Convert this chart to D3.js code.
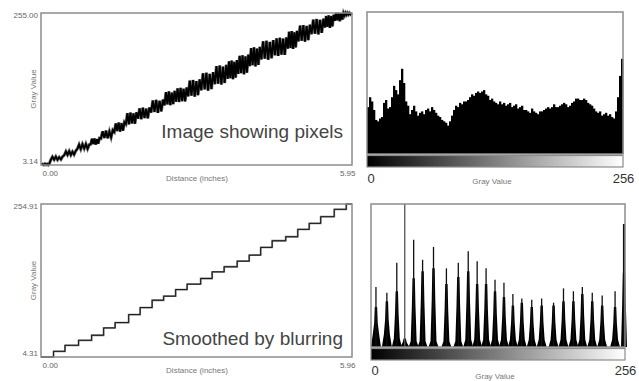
<!DOCTYPE html>
<html>
<head>
<meta charset="utf-8">
<script src="https://cdn.jsdelivr.net/npm/d3@7"></script>
<style>
    body { margin: 0; background: #fff; }
    svg { display: block; font-family: "Liberation Sans", Arial, sans-serif; }
</style>
</head>
<body>
<script>
// ---- data ----

// top left: raw profile, step edges (inches) and noisy samples inside each step
var rawEdges = [0, 0.17, 0.43, 0.68, 0.94, 1.13, 1.39, 1.61, 1.84, 2.09, 2.35, 2.57, 2.80, 3.05, 3.31, 3.56, 3.76, 3.98, 4.20, 4.46, 4.71, 4.91, 5.16, 5.42, 5.61, 5.80, 5.95];
var rawSamples = [
    [3.14, 4.5, 3.3, 5, 3.5, 4.8, 3.2, 5.2],
    [11.5, 16.5, 12, 17, 11.8, 16, 12.5, 17.2],
    [19.5, 25.5, 20, 26, 19.8, 25, 20.5, 26.5],
    [30, 37, 29.5, 37.5, 30.5, 38, 30, 37],
    [37.5, 46.5, 38, 47, 37, 46, 38.5, 47.5],
    [47, 59, 48, 60, 47.5, 58.5, 49, 61],
    [58, 72, 59.5, 73.5, 58.5, 72.5, 60, 74],
    [71, 89, 70.5, 90, 72, 88.5, 71.5, 90.5],
    [80, 97, 79, 98, 81, 96.5, 80.5, 98.5],
    [90, 110, 91, 111, 89.5, 109.5, 92, 111.5],
    [102, 124, 103.5, 125, 102.5, 123, 104, 126],
    [108, 130, 107.5, 131, 109, 129.5, 108.5, 131.5],
    [117, 143, 118, 144, 116.5, 142, 119, 145],
    [127, 155, 128.5, 156, 126.5, 154, 129, 157],
    [137, 167, 138, 168, 136.5, 166, 139, 169],
    [146, 175, 147, 176, 145.5, 174, 148, 177],
    [154, 184, 155.5, 185, 153.5, 183, 156, 186],
    [167, 197, 168.5, 198, 166.5, 196, 169, 199],
    [178, 208, 179.5, 209, 177.5, 207, 180, 210],
    [185, 213, 184, 214, 186, 212.5, 185.5, 214.5],
    [196, 224, 197, 225, 195.5, 223, 198, 225.5],
    [208, 234, 209, 235, 207.5, 233.5, 210, 235.5],
    [220, 244, 221, 245, 219.5, 243.5, 222, 245.5],
    [231, 250, 232, 251, 230.5, 250, 233, 252],
    [242, 255, 243, 255, 241.5, 254.5, 244, 255],
    [251, 255, 252, 255, 252.5, 255, 253, 255]
];
var rawRange = [3.14, 255.00];
var rawLength = 5.95;

// bottom left: smoothed profile
var smoothEdges = [0, 0.24, 0.46, 0.72, 0.97, 1.20, 1.42, 1.68, 1.90, 2.13, 2.35, 2.58, 2.80, 3.06, 3.28, 3.51, 3.76, 3.99, 4.21, 4.43, 4.69, 4.92, 5.14, 5.36, 5.62, 5.85, 5.96];
var smoothLevels = [4.31, 13.6, 23.5, 31.7, 39.9, 51.9, 60.7, 73.8, 85.3, 97.3, 103.9, 114.8, 123.6, 132.9, 143.8, 152.1, 161.3, 171.2, 183.8, 194.7, 201.3, 213.3, 223.2, 234.1, 246.2, 254.91];
var smoothRange = [4.31, 254.91];
var smoothLength = 5.96;

// top right: histogram of the raw profile, one value per pair of gray levels (% of frame height)
var rawHist = [33, 40, 37, 31, 24, 23, 25, 26, 36, 38, 32, 33, 40, 48, 45, 42,
    52, 60, 50, 37, 34, 28, 31, 34, 30, 27, 29, 30, 28, 31, 32, 30,
    33, 31, 29, 27, 26, 24, 23, 22, 20, 23, 27, 31, 34, 33, 36, 35,
    37, 37, 38, 40, 42, 41, 43, 44, 43, 44, 45, 42, 41, 38, 39, 37,
    36, 35, 37, 35, 36, 34, 35, 36, 33, 34, 35, 32, 33, 34, 31, 31,
    30, 29, 32, 30, 29, 28, 30, 30, 31, 32, 33, 32, 33, 35, 33, 33,
    34, 35, 36, 35, 33, 34, 36, 37, 39, 39, 38, 38, 39, 38, 36, 35,
    34, 32, 30, 29, 30, 27, 28, 29, 27, 28, 26, 25, 30, 40, 55, 67];

// bottom right: histogram of the smoothed profile, one peak per step
var peakGray = [5, 16, 26, 34, 43, 52, 63, 76, 88, 98, 107, 116, 125, 134, 143, 152, 162, 172, 184, 194, 204, 213, 223, 233, 246, 255];
var peakSpike = [42, 38, 59, 100, 75, 61, 70, 55, 59, 67, 60, 55, 47, 45, 37, 34, 33, 34, 31, 41, 39, 42, 38, 36, 39, 86];
var peakBody = [28, 32, 39, 6, 48, 53, 55, 44, 49, 53, 44, 44, 39, 35, 29, 31, 28, 29, 29, 32, 32, 37, 32, 29, 28, 52];
var peakBase = [10, 9, 6, 2, 4, 4, 4, 4, 4, 5, 5, 5, 5, 5, 5, 5, 5, 5, 5, 5, 5, 5, 5, 5, 5, 0];

var grayMax = 256;

// ---- drawing ----
var svg = d3.select("body").append("svg")
    .attr("width", 639)
    .attr("height", 381);

var grad = svg.append("defs").append("linearGradient")
    .attr("id", "grayRamp")
    .attr("x1", "0%").attr("x2", "100%").attr("y1", "0%").attr("y2", "0%");
grad.append("stop").attr("offset", "0%").attr("stop-color", "#000");
grad.append("stop").attr("offset", "100%").attr("stop-color", "#fff");

// left panels: frame, ticks, titles
var profilePanel = function (top, bottom, xMax, yRange, caption, captionY) {
    var x = d3.scaleLinear().domain([0, xMax]).range([41, 352]);
    var y = d3.scaleLinear().domain(yRange).range([bottom, top]);

    var ya = svg.append("g")
        .attr("transform", "translate(41,0)")
        .call(d3.axisLeft(y).tickValues(yRange).tickSize(0).tickPadding(3).tickFormat(d3.format(".2f")));
    ya.select(".domain").remove();
    ya.selectAll("text")
        .style("font-size", "8px")
        .style("fill", "#666")
        .attr("y", function (d, i) { return i === 0 ? -4 : 2; });

    var xa = svg.append("g")
        .attr("transform", "translate(0," + bottom + ")")
        .call(d3.axisBottom(x).tickValues([0, xMax]).tickSize(0).tickPadding(5).tickFormat(d3.format(".2f")));
    xa.select(".domain").remove();
    xa.selectAll("text")
        .style("font-size", "8px")
        .style("fill", "#666")
        .style("text-anchor", function (d, i) { return i === 0 ? "start" : "end"; })
        .attr("dx", function (d, i) { return i === 0 ? 1 : 3; });

    svg.append("text")
        .attr("x", 197)
        .attr("y", bottom + 16)
        .attr("text-anchor", "middle")
        .style("font-size", "8px")
        .style("fill", "#777")
        .text("Distance (inches)");

    svg.append("text")
        .attr("transform", "translate(36," + ((top + bottom) / 2) + ") rotate(-90)")
        .attr("text-anchor", "middle")
        .style("font-size", "8px")
        .style("fill", "#777")
        .text("Gray Value");

    svg.append("text")
        .attr("x", 343)
        .attr("y", captionY)
        .attr("text-anchor", "end")
        .style("font-size", "19px")
        .style("fill", "#444")
        .text(caption);

    return { x: x, y: y, top: top, bottom: bottom };
};

var frame = function (x0, y0, x1, y1) {
    svg.append("rect")
        .attr("x", x0)
        .attr("y", y0)
        .attr("width", x1 - x0)
        .attr("height", y1 - y0)
        .style("fill", "none")
        .style("stroke", "#8c8c8c")
        .style("stroke-width", 1.5);
};

// top left: raw profile
var p1 = profilePanel(13, 165, rawLength, rawRange, "Image showing pixels", 138);
var rawPoints = [];
rawSamples.forEach(function (s, i) {
    var a = rawEdges[i], b = rawEdges[i + 1];
    s.forEach(function (v, j) {
        rawPoints.push([a + (j + 0.5) / s.length * (b - a), v]);
    });
});
var rawLine = d3.line()
    .x(function (d) { return p1.x(d[0]); })
    .y(function (d) { return p1.y(d[1]); });
svg.append("path")
    .attr("d", rawLine(rawPoints))
    .style("fill", "none")
    .style("stroke", "#7a7a7a")
    .style("stroke-width", 3.2);
svg.append("path")
    .attr("d", rawLine(rawPoints))
    .style("fill", "none")
    .style("stroke", "#000")
    .style("stroke-width", 1.9);
frame(41, 13, 352, 165);

// bottom left: smoothed profile
var p2 = profilePanel(204, 357, smoothLength, smoothRange, "Smoothed by blurring", 345);
var smoothPoints = smoothLevels.map(function (v, i) { return [smoothEdges[i], v]; });
smoothPoints.push([smoothEdges[smoothEdges.length - 1], smoothLevels[smoothLevels.length - 1]]);
var smoothLine = d3.line()
    .curve(d3.curveStepAfter)
    .x(function (d) { return p2.x(d[0]); })
    .y(function (d) { return p2.y(d[1]); });
svg.append("path")
    .attr("d", smoothLine(smoothPoints))
    .style("fill", "none")
    .style("stroke", "#777")
    .style("stroke-width", 1.8);
svg.append("path")
    .attr("d", smoothLine(smoothPoints))
    .style("fill", "none")
    .style("stroke", "#111")
    .style("stroke-width", 0.9);
frame(41, 204, 352, 357);

// right panels: gradient bar and labels
var histPanel = function (left, right, top, bottom, barBottom, labelY, titleY) {
    var x = d3.scaleLinear().domain([0, grayMax]).range([left, right]);
    var y = d3.scaleLinear().domain([0, 100]).range([bottom, top]);

    svg.append("rect")
        .attr("x", left)
        .attr("y", bottom + 1.5)
        .attr("width", right - left)
        .attr("height", barBottom - bottom - 1.5)
        .style("fill", "url(#grayRamp)")
        .style("stroke", "#8c8c8c")
        .style("stroke-width", 1.2);

    var xa = svg.append("g")
        .attr("transform", "translate(0," + labelY + ")")
        .call(d3.axisBottom(x).tickValues([0, grayMax]).tickSize(0).tickPadding(0));
    xa.select(".domain").remove();
    xa.selectAll("text")
        .attr("y", 0)
        .attr("dy", "0.35em")
        .attr("dx", function (d, i) { return i === 0 ? 3.5 : 0; })
        .style("font-size", "13px")
        .style("fill", "#333");

    svg.append("text")
        .attr("x", (left + right) / 2 - 3)
        .attr("y", titleY)
        .attr("text-anchor", "middle")
        .style("font-size", "8px")
        .style("fill", "#777")
        .text("Gray Value");

    return { x: x, y: y };
};

// top right: raw histogram
var h1 = histPanel(367, 623, 12, 154, 167, 178, 184);
svg.append("g").selectAll("rect")
    .data(rawHist)
    .enter().append("rect")
    .attr("x", function (d, i) { return h1.x(i * 2); })
    .attr("width", function (d, i) { return h1.x(i * 2 + 2) - h1.x(i * 2) + 0.3; })
    .attr("y", function (d) { return h1.y(d); })
    .attr("height", function (d) { return h1.y(0) - h1.y(d); })
    .style("fill", "#000");
frame(367, 12, 623, 154);

// bottom right: smoothed histogram
var h2 = histPanel(371, 625, 204, 347, 360, 370, 379);
var peakShape = d3.area()
    .x(function (d) { return h2.x(d[0]); })
    .y0(h2.y(0))
    .y1(function (d) { return h2.y(d[1]); });
var peaks = svg.append("g");
peakGray.forEach(function (g, i) {
    var lo = Math.max(0, g - 5), hi = Math.min(grayMax, g + 5);
    var b = peakBody[i], base = peakBase[i];
    peaks.append("path")
        .attr("d", peakShape([[lo, 0], [g - 3, base], [g - 1.8, b * 0.6], [g - 1.2, b],
            [g + 1.2, b], [g + 1.8, b * 0.6], [g + 3, base], [hi, 0]]))
        .style("fill", "#000");
    peaks.append("line")
        .attr("x1", h2.x(g))
        .attr("x2", h2.x(g))
        .attr("y1", h2.y(0))
        .attr("y2", h2.y(peakSpike[i]))
        .style("stroke", i === 3 ? "#555" : "#111")
        .style("stroke-width", i === peakGray.length - 1 ? 2.2 : 1.3);
});
frame(371, 204, 625, 347);
</script>
</body>
</html>
